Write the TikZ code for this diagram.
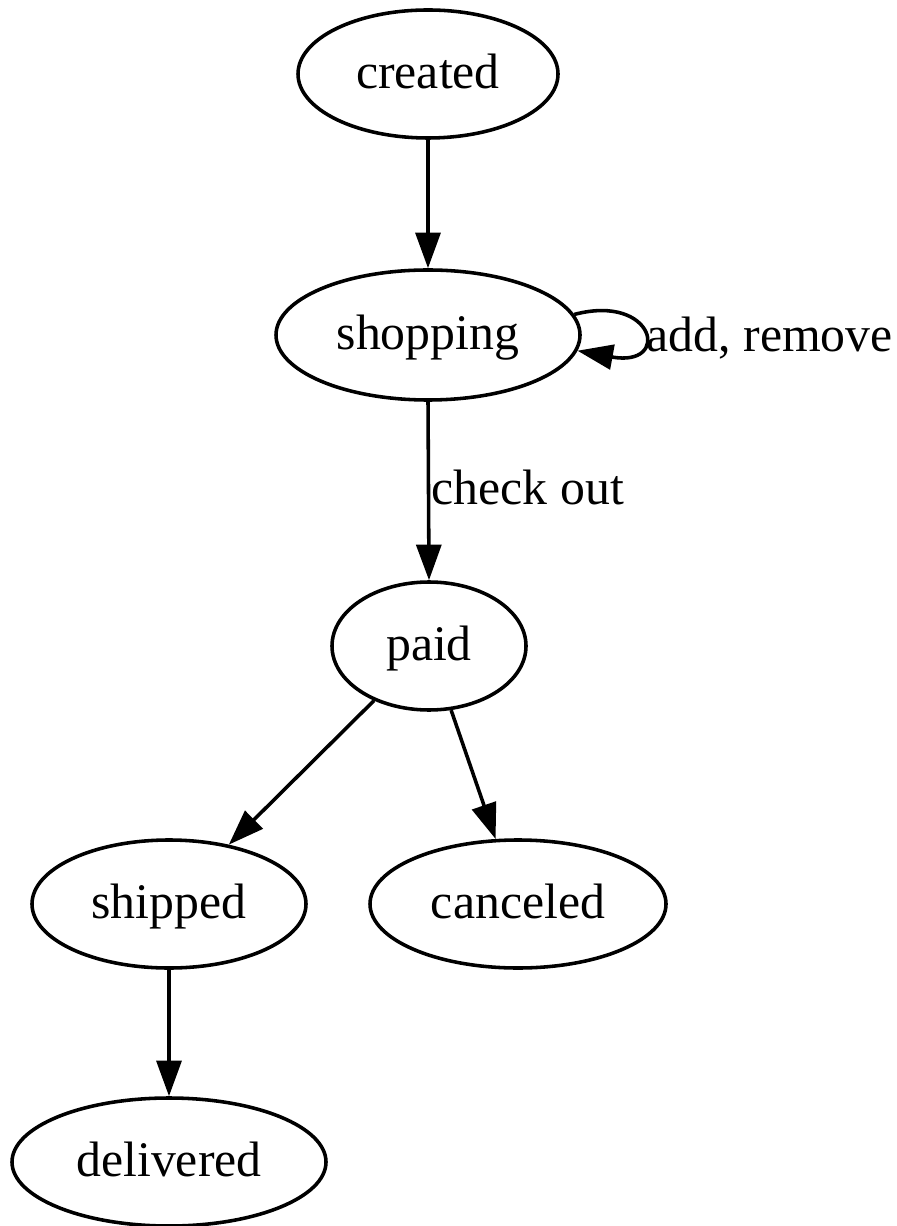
\documentclass[tikz,border=0pt]{standalone}
\usepackage{fontspec}
\setmainfont{Liberation Serif}
\usetikzlibrary{shapes.geometric,arrows.meta}
\def\u{0.28125pt}
\tikzset{
  state/.style={draw, ellipse, inner sep=0pt, line width=1pt, font=\fontsize{14}{16}\selectfont, text height=11pt, text depth=3pt},
  arr/.style={line width=1pt, -{Triangle[length=10pt,width=7pt]}},
  lbl/.style={font=\fontsize{14}{16}\selectfont, inner sep=0pt, anchor=west, text height=11pt, text depth=3pt}
}
\begin{document}
\begin{tikzpicture}[x=0.28125pt, y=-0.28125pt]
\useasboundingbox (0,0) rectangle (896,1226);
\node[state, minimum width=260*\u, minimum height=128*\u] (created) at (428,74) {created};
\node[state, minimum width=304*\u, minimum height=130*\u] (shopping) at (428,335) {shopping};
\node[state, minimum width=194*\u, minimum height=128*\u] (paid) at (429,646) {paid};
\node[state, minimum width=274*\u, minimum height=128*\u] (shipped) at (169,904) {shipped};
\node[state, minimum width=296*\u, minimum height=128*\u] (canceled) at (518,904) {canceled};
\node[state, minimum width=314*\u, minimum height=128*\u] (delivered) at (169,1162) {delivered};

\draw[arr] (created) -- (shopping);
\draw[arr] (shopping.south) -- (paid.north);
\draw[arr] (paid) -- (shipped);
\draw[arr] (paid) -- (canceled);
\draw[arr] (shipped) -- (delivered);
\draw[arr] (shopping.8) .. controls (655,293) and (672,368) .. (shopping.-6);

\node[lbl] (lcheck) at (431,490) {check out};
\node[lbl] (ladd) at (646,337) {add, remove};
\end{tikzpicture}
\end{document}
